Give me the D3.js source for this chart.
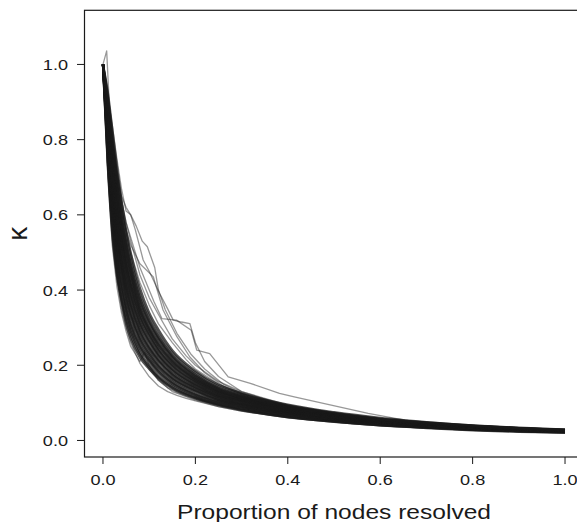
<!DOCTYPE html>
<html>
<head>
<meta charset="utf-8">
<script src="https://cdn.jsdelivr.net/npm/d3@7"></script>
<style>
  body { margin: 0; background: #fff; }
  text { font-family: "Liberation Sans", Arial, Helvetica, sans-serif; fill: #1a1a1a; }
</style>
</head>
<body>
<div id="chart"></div>
<script>
// proportion of nodes resolved, shared by the main bundle of curves
var xGrid = [0, .01, .02, .03, .04, .05, .06, .08, .10, .12, .15, .20, .25, .30, .40, .50, .60, .70, .80, .90, 1.0];

// kappa values of the main bundle (one row per curve)
var coreCurves = [
  [1, .74, .55, .44, .37, .31, .27, .22, .19, .165, .138, .112, .094, .081, .062, .050, .040, .033, .027, .023, .021],
  [1, .75, .57, .45, .375, .32, .28, .228, .195, .168, .141, .114, .095, .082, .063, .051, .041, .034, .028, .024, .021],
  [1, .76, .58, .46, .38, .33, .29, .235, .20, .172, .145, .116, .097, .084, .064, .052, .042, .035, .029, .025, .022],
  [1, .78, .60, .48, .40, .345, .30, .245, .21, .18, .15, .12, .10, .087, .067, .054, .043, .036, .030, .025, .022],
  [1, .785, .61, .49, .41, .352, .308, .25, .214, .184, .153, .122, .102, .088, .068, .055, .044, .036, .030, .026, .023],
  [1, .79, .62, .50, .42, .36, .315, .255, .218, .188, .156, .125, .104, .090, .069, .055, .044, .037, .031, .026, .023],
  [1, .80, .63, .52, .44, .375, .33, .265, .225, .195, .162, .13, .107, .092, .071, .057, .046, .038, .031, .027, .023],
  [1, .805, .64, .528, .448, .382, .335, .27, .23, .198, .165, .132, .108, .094, .072, .057, .046, .038, .032, .027, .023],
  [1, .81, .65, .535, .455, .39, .34, .275, .235, .202, .168, .134, .11, .095, .073, .058, .047, .039, .032, .027, .024],
  [1, .82, .66, .55, .47, .405, .355, .285, .243, .21, .174, .138, .113, .097, .075, .060, .048, .040, .033, .028, .024],
  [1, .825, .67, .558, .475, .41, .36, .29, .246, .213, .176, .14, .115, .098, .076, .060, .049, .040, .033, .028, .025],
  [1, .83, .68, .565, .48, .415, .365, .295, .25, .216, .179, .142, .116, .10, .077, .061, .049, .041, .034, .029, .025],
  [1, .84, .69, .58, .495, .43, .38, .305, .26, .224, .185, .146, .119, .102, .078, .062, .050, .041, .034, .029, .025],
  [1, .845, .695, .588, .502, .438, .385, .31, .264, .227, .188, .148, .12, .104, .079, .063, .050, .042, .035, .029, .025],
  [1, .85, .70, .595, .51, .445, .39, .315, .268, .23, .19, .15, .122, .105, .080, .064, .051, .042, .035, .030, .026],
  [1, .86, .72, .61, .525, .46, .405, .325, .277, .238, .196, .154, .125, .107, .082, .065, .052, .043, .036, .030, .026],
  [1, .865, .728, .618, .532, .465, .41, .33, .281, .241, .199, .156, .126, .108, .083, .066, .052, .043, .036, .030, .026],
  [1, .87, .735, .625, .54, .47, .415, .335, .285, .245, .202, .158, .128, .11, .084, .066, .053, .044, .036, .031, .026],
  [1, .88, .75, .64, .555, .485, .43, .345, .293, .252, .208, .162, .131, .112, .085, .068, .054, .045, .037, .031, .027],
  [1, .885, .758, .65, .562, .492, .438, .35, .297, .256, .211, .164, .132, .113, .086, .068, .054, .045, .037, .031, .027],
  [1, .89, .765, .66, .57, .50, .445, .355, .30, .26, .214, .166, .134, .115, .087, .069, .055, .045, .038, .032, .027],
  [1, .90, .78, .675, .585, .515, .455, .365, .31, .268, .22, .17, .137, .117, .089, .070, .056, .046, .038, .032, .028],
  [1, .905, .79, .682, .592, .522, .462, .372, .315, .272, .223, .172, .138, .118, .090, .071, .056, .046, .039, .032, .028],
  [1, .91, .80, .69, .60, .53, .47, .38, .32, .276, .226, .175, .14, .12, .091, .072, .057, .047, .039, .033, .028],
  [1, .92, .815, .71, .62, .545, .485, .39, .33, .285, .233, .18, .144, .123, .093, .073, .058, .048, .040, .033, .029],
  [1, .93, .83, .73, .64, .56, .50, .405, .34, .295, .24, .185, .148, .126, .095, .075, .060, .049, .040, .034, .029]
];

// the stray curves that leave the bundle
var strayX1 = [0, .01, .02, .03, .04, .05, .06, .07, .08, .09, .10, .11, .1275, .159, .191, .203, .231, .271, .319, .382, .414, .494, .574, .653, .75, .85, 1.0];
var strayK1 = [1, .90, .80, .71, .64, .58, .54, .50, .46, .43, .40, .37, .324, .32, .293, .24, .231, .169, .152, .125, .116, .094, .072, .054, .042, .034, .027];
var strayX2 = [0, .01, .02, .03, .04, .05, .06, .07, .087, .10, .123, .14, .152, .17, .188, .20, .22, .25, .30, .40, .50, .60, .80, 1.0];
var strayK2 = [1, .92, .84, .75, .67, .61, .60, .56, .48, .45, .39, .35, .32, .315, .311, .26, .21, .17, .13, .09, .068, .054, .037, .028];
var strayX3 = [0, .01, .02, .03, .04, .05, .06, .08, .109, .13, .16, .188, .22, .26, .30, .40, .50, .60, .80, 1.0];
var strayK3 = [1, .88, .78, .69, .62, .56, .52, .47, .435, .347, .276, .222, .18, .145, .122, .09, .07, .055, .038, .028];
var strayX4 = [0, .01, .02, .03, .04, .05, .06, .072, .085, .096, .112, .12, .135, .16, .19, .22, .26, .30, .40, .50, .60, .80, 1.0];
var strayK4 = [1, .90, .80, .72, .65, .62, .60, .57, .53, .515, .46, .40, .347, .285, .23, .19, .15, .125, .09, .07, .055, .037, .028];
var strayX5 = [0, .008, .015, .02, .03, .04, .05, .06, .08, .10, .12, .15, .20, .25, .30, .40, .50, .60, .80, 1.0];
var strayK5 = [1, 1.036, .86, .76, .63, .54, .47, .42, .34, .29, .25, .205, .16, .13, .11, .083, .066, .053, .036, .027];
var strayX6 = [0, .01, .02, .03, .04, .05, .06, .07, .08, .09, .10, .12, .15, .20, .25, .30, .40, .50, .60, .80, 1.0];
var strayK6 = [1, .72, .52, .41, .34, .29, .25, .23, .21, .235, .20, .16, .13, .107, .09, .078, .06, .048, .039, .027, .021];
var strayX7 = [0, .01, .02, .03, .04, .05, .06, .08, .10, .12, .14, .16, .18, .20, .25, .30, .40, .50, .60, .80, 1.0];
var strayK7 = [1, .73, .54, .43, .35, .30, .26, .205, .17, .145, .13, .12, .112, .105, .09, .078, .06, .048, .039, .027, .021];
var strayK8 = [1, .80, .62, .50, .41, .34, .29, .23, .19, .16, .14, .128, .118, .11, .094, .082, .063, .050, .041, .028, .022];
var strayX9 = [0, .01, .02, .03, .04, .05, .06, .08, .10, .12, .15, .18, .20, .25, .30, .40, .50, .60, .80, 1.0];
var strayK9 = [1, .90, .80, .70, .62, .56, .50, .42, .36, .31, .26, .215, .19, .15, .125, .092, .072, .057, .039, .029];
var strayK10 = [1, .92, .82, .72, .64, .58, .53, .44, .38, .335, .27, .225, .20, .157, .13, .094, .073, .057, .039, .029];

var xTicks = [0, 0.2, 0.4, 0.6, 0.8, 1.0];
var yTicks = [0, 0.2, 0.4, 0.6, 0.8, 1.0];

// set the dimensions of the graph
var W = 577, H = 522;
var plotLeft = 84.5, plotRight = 583.5, plotTop = 10.3, plotBottom = 457;
var stretch = 1.17; // the figure's lettering is a little wide

var svg = d3.select("#chart")
  .append("svg")
  .attr("width", W)
  .attr("height", H);

var x = d3.scaleLinear().domain([-0.04, 1.04]).range([plotLeft, plotRight]);
var y = d3.scaleLinear().domain([-0.044, 1.144]).range([plotBottom, plotTop]);

// curves
var smooth = d3.line()
  .x(function(d) { return x(d[0]); })
  .y(function(d) { return y(d[1]); })
  .curve(d3.curveMonotoneX);
var straight = d3.line()
  .x(function(d) { return x(d[0]); })
  .y(function(d) { return y(d[1]); });

var strays = svg.append("g")
  .attr("fill", "none")
  .attr("stroke", "#1a1a1a")
  .attr("stroke-opacity", 0.45)
  .attr("stroke-width", 1.3)
  .attr("stroke-linejoin", "round");

[[strayX1, strayK1], [strayX2, strayK2], [strayX3, strayK3],
 [strayX4, strayK4], [strayX5, strayK5], [strayX6, strayK6],
 [strayX7, strayK7], [strayX7, strayK8], [strayX9, strayK9], [strayX9, strayK10]].forEach(function(s) {
  strays.append("path").attr("d", straight(s[0].map(function(v, i) { return [v, s[1][i]]; })));
});

var lines = svg.append("g")
  .attr("fill", "none")
  .attr("stroke", "#1a1a1a")
  .attr("stroke-opacity", 0.75)
  .attr("stroke-width", 2.3)
  .attr("stroke-linejoin", "round");

coreCurves.forEach(function(k) {
  lines.append("path").attr("d", smooth(xGrid.map(function(v, i) { return [v, k[i]]; })));
});

// box
svg.append("rect")
  .attr("x", plotLeft).attr("y", plotTop)
  .attr("width", plotRight - plotLeft).attr("height", plotBottom - plotTop)
  .attr("fill", "none").attr("stroke", "#1a1a1a").attr("stroke-width", 1.2);

// Y axis ticks and labels
svg.selectAll(".ytick").data(yTicks).enter().append("line")
  .attr("x1", plotLeft).attr("x2", plotLeft - 7.5)
  .attr("y1", function(d) { return y(d); }).attr("y2", function(d) { return y(d); })
  .attr("stroke", "#1a1a1a").attr("stroke-width", 1);
svg.selectAll(".ylab").data(yTicks).enter().append("text")
  .attr("transform", function(d) { return "translate(68," + (y(d) + 5.5) + ") scale(" + stretch + ",1)"; })
  .attr("text-anchor", "end")
  .style("font-size", "15.5px")
  .text(function(d) { return d.toFixed(1); });

// X axis ticks and labels
svg.selectAll(".xtick").data(xTicks).enter().append("line")
  .attr("x1", function(d) { return x(d); }).attr("x2", function(d) { return x(d); })
  .attr("y1", plotBottom).attr("y2", plotBottom + 7)
  .attr("stroke", "#1a1a1a").attr("stroke-width", 1);
svg.selectAll(".xlab").data(xTicks).enter().append("text")
  .attr("transform", function(d) { return "translate(" + x(d) + ",485) scale(" + stretch + ",1)"; })
  .attr("text-anchor", "middle")
  .style("font-size", "15.5px")
  .text(function(d) { return d.toFixed(1); });

// axis titles
svg.append("text")
  .attr("transform", "translate(" + ((plotLeft + plotRight) / 2) + ",518.5) scale(" + stretch + ",1)")
  .attr("text-anchor", "middle")
  .style("font-size", "21px")
  .text("Proportion of nodes resolved");

svg.append("text")
  .attr("transform", "translate(27," + ((plotTop + plotBottom) / 2) + ") rotate(-90)")
  .attr("text-anchor", "middle")
  .style("font-size", "28px")
  .text("κ");
</script>
</body>
</html>
